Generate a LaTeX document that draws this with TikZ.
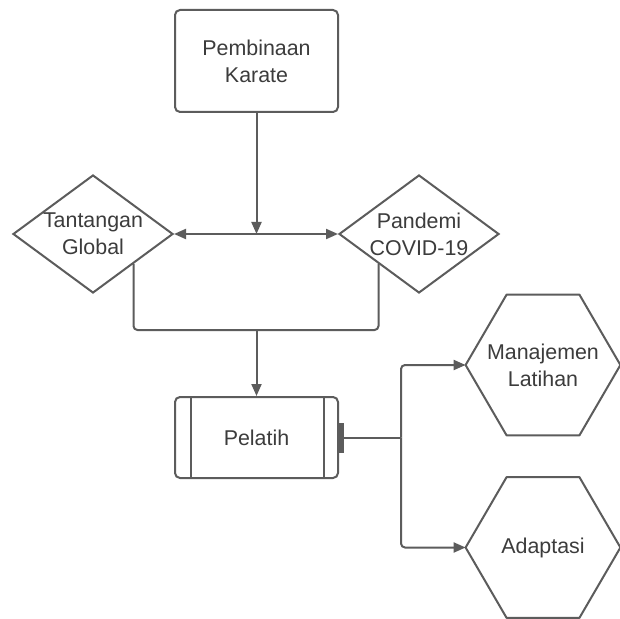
\documentclass[tikz,border=0pt]{standalone}
\usepackage{fontspec}
\setmainfont{Liberation Sans}
\usetikzlibrary{shapes.geometric,arrows.meta}
\definecolor{linegray}{RGB}{92,92,92}
\definecolor{textgray}{RGB}{60,60,60}

\begin{document}
\begin{tikzpicture}[x=0.5pt,y=-0.5pt,
	every node/.style={font=\fontsize{10.7}{13.5}\selectfont,text=textgray,align=center},
	box/.style={draw=linegray,line width=1pt,rounded corners=2.5pt,fill=white,minimum width=81.5pt},
	rhomb/.style={diamond,draw=linegray,line width=1pt,inner sep=0pt,minimum width=80pt,minimum height=59pt},
	hexa/.style={minimum width=77pt,minimum height=70pt,inner sep=0pt},
	conn/.style={draw=linegray,line width=1pt,rounded corners=2pt},
	arr/.style={conn,-{Triangle[length=6pt,width=5pt]}}]
					\useasboundingbox[fill=white] (0,0) rectangle (619,619);

					%NODES
					\node[box,minimum height=51pt] (kar) at (256.5,61) {Pembinaan\\Karate};
					\node[rhomb,label={[align=center]center:Tantangan\\Global}] (tg) at (93,234) {};
					\node[rhomb,label={[align=center]center:Pandemi\\COVID-19}] (pc) at (419,234) {};
					\node[box,minimum height=40.5pt] (pel) at (256.5,437.5) {Pelatih};
					\node[hexa] (man) at (543,365) {Manajemen\\Latihan};
					\node[hexa] (ada) at (543,547.5) {Adaptasi};

					%PELATIH DETAILS
					\draw[linegray,line width=1pt] ([xshift=8.5pt]pel.north west) -- ([xshift=8.5pt]pel.south west);
					\draw[linegray,line width=1pt] ([xshift=-7.5pt]pel.north east) -- ([xshift=-7.5pt]pel.south east);
					\fill[linegray] ([yshift=7.5pt]pel.east) rectangle ([xshift=2.5pt,yshift=-7.5pt]pel.east);

					%HEXAGONS
					\foreach \h in {man,ada}
						\draw[linegray,line width=1pt,line join=round] (\h.west) -- ([xshift=20.5pt]\h.north west) -- ([xshift=-20.5pt]\h.north east)
							-- (\h.east) -- ([xshift=-20.5pt]\h.south east) -- ([xshift=20.5pt]\h.south west) -- cycle;

					%CONNECTORS
					\coordinate (j1) at (256.5,234);
					\coordinate (j2) at (256.5,330);
					\coordinate (j3) at (401,437.5);
					\draw[arr] (kar.south) -- (j1);
					\draw[arr] (j1) -- (tg.east);
					\draw[arr] (j1) -- (pc.west);
					\draw[conn] (tg.south east) |- (j2) -| (pc.south west);
					\draw[arr] (j2) -- (pel.north);
					\draw[conn] ([xshift=2.5pt]pel.east) -- (j3);
					\draw[arr] (j3) |- (man.west);
					\draw[arr] (j3) |- (ada.west);
\end{tikzpicture}
\end{document}
